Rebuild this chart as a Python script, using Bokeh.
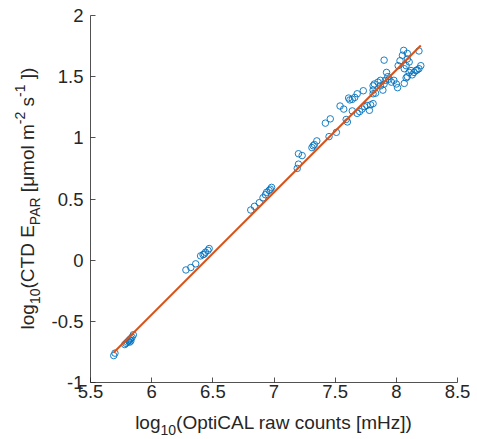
from bokeh.plotting import figure
from bokeh.models import Range1d, FixedTicker, Div
from bokeh.layouts import row, column
from bokeh.embed import file_html
from bokeh.resources import INLINE

# ---- data ----
x_vals = [5.69, 5.70, 5.78, 5.79, 5.80, 5.81, 5.82, 5.82, 5.83, 5.84, 5.85, 5.83,
          6.28, 6.32, 6.36, 6.40, 6.42, 6.43, 6.44, 6.46, 6.47,
          6.81, 6.84, 6.88, 6.91, 6.93, 6.94, 6.96, 6.97, 6.98,
          7.19, 7.20, 7.20, 7.23,
          7.31, 7.32, 7.33, 7.35,
          7.42, 7.46, 7.45, 7.51,
          7.54, 7.57, 7.59, 7.60,
          7.61, 7.62, 7.64, 7.66, 7.68, 7.73,
          7.64, 7.68, 7.70, 7.72, 7.74, 7.76, 7.78, 7.79, 7.81,
          7.81, 7.82, 7.81, 7.81, 7.83, 7.85, 7.87, 7.89, 7.87, 7.90, 7.91,
          7.90,
          7.92, 7.93, 7.94, 7.96, 7.98, 8.00, 8.01,
          8.015, 8.03, 8.05, 8.06, 8.09, 8.09, 8.105, 8.08, 8.065, 8.065, 8.08,
          8.09, 8.105, 8.12, 8.13, 8.145, 8.16, 8.17, 8.185, 8.20, 8.185]
y_vals = [-0.78, -0.76, -0.69, -0.68, -0.67, -0.66, -0.67, -0.65, -0.64, -0.63, -0.61, -0.66,
          -0.08, -0.06, -0.03, 0.035, 0.045, 0.05, 0.065, 0.08, 0.095,
          0.41, 0.44, 0.47, 0.51, 0.535, 0.555, 0.57, 0.58, 0.595,
          0.75, 0.785, 0.87, 0.855,
          0.92, 0.935, 0.945, 0.975,
          1.12, 1.155, 1.01, 1.045,
          1.26, 1.235, 1.15, 1.13,
          1.325, 1.31, 1.315, 1.33, 1.36, 1.385,
          1.22, 1.20, 1.215, 1.235, 1.255, 1.265, 1.225, 1.27, 1.28,
          1.425, 1.44, 1.39, 1.36, 1.365, 1.455, 1.47, 1.39, 1.425, 1.44, 1.47,
          1.635,
          1.535, 1.50, 1.48, 1.455, 1.47, 1.44, 1.41,
          1.59, 1.63, 1.675, 1.715, 1.69, 1.645, 1.62, 1.59, 1.565, 1.445, 1.49,
          1.50, 1.535, 1.55, 1.515, 1.535, 1.55, 1.555, 1.565, 1.59, 1.71]
fit_slope = 1.0
fit_intercept = -6.445

x_ticks = [5.5, 6, 6.5, 7, 7.5, 8, 8.5]
x_tick_labels = ["5.5", "6", "6.5", "7", "7.5", "8", "8.5"]
y_ticks = [-1, -0.5, 0, 0.5, 1, 1.5, 2]
y_tick_labels = ["-1", "-0.5", "0", "0.5", "1", "1.5", "2"]

x_label_parts = [("log", "n"), ("10", "sub"), ("(OptiCAL raw counts [mHz])", "n")]
y_label_parts = [("log", "n"), ("10", "sub"), ("(CTD E", "n"), ("PAR", "sub"),
                 (" [μmol m", "n"), ("-2", "sup"), (" s", "n"), ("-1", "sup"), (" ])", "n")]

# ---- styling / layout ----
FONT = "Liberation Sans"
TXT = "#262626"
BLUE = "#0072BD"
ORANGE = "#D95319"

YDIV_W = 44
FIG_W, FIG_H = 477 - YDIV_W, 408
BL, BT = 46, 15
FRAME = 367
BR = FIG_W - BL - FRAME
BB = FIG_H - BT - FRAME
XDIV_H = 30

p = figure(width=FIG_W, height=FIG_H, x_range=Range1d(5.5, 8.5), y_range=Range1d(-1, 2),
           output_backend="svg", toolbar_location=None,
           min_border_left=BL, min_border_right=BR, min_border_top=BT, min_border_bottom=BB)
p.grid.visible = False
p.outline_line_color = None
p.background_fill_color = "white"
p.border_fill_color = "white"

p.xaxis.ticker = FixedTicker(ticks=x_ticks)
p.xaxis.major_label_overrides = {t: l for t, l in zip(x_ticks, x_tick_labels)}
p.yaxis.ticker = FixedTicker(ticks=y_ticks)
p.yaxis.major_label_overrides = {t: l for t, l in zip(y_ticks, y_tick_labels)}
for ax in (p.xaxis[0], p.yaxis[0]):
    ax.major_tick_in = 5
    ax.major_tick_out = 0
    ax.minor_tick_line_color = None
    ax.axis_line_color = TXT
    ax.axis_line_width = 0.8
    ax.major_tick_line_color = TXT
    ax.major_tick_line_width = 0.8
    ax.major_label_text_font = FONT
    ax.major_label_text_font_size = "18.5px"
    ax.major_label_text_color = TXT
p.xaxis.major_label_standoff = 2
p.yaxis.major_label_standoff = 7

p.scatter(x_vals, y_vals, marker="circle", size=6.5, fill_color=None,
          line_color=BLUE, line_width=0.9)
lx = [min(x_vals), max(x_vals)]
ly = [fit_slope * v + fit_intercept for v in lx]
p.line(lx, ly, line_color=ORANGE, line_width=2)


# ---- axis labels with sub/superscripts (HTML text) ----
def parts_html(parts):
    out = []
    for t, k in parts:
        if k == "n":
            out.append(t)
        elif k == "sub":
            out.append('<sub style="font-size:14px;vertical-align:-6px;line-height:0">%s</sub>' % t)
        else:
            out.append('<sup style="font-size:14px;vertical-align:9px;line-height:0">%s</sup>' % t)
    return "".join(out)


base_css = ("white-space:nowrap;text-align:center;font-family:'%s';font-size:19px;"
            "line-height:30px;height:30px;color:%s;" % (FONT, TXT))

frame_cx = YDIV_W + BL + FRAME / 2.0          # page x of frame centre
x_inner_w = 2 * (477 - frame_cx) - 20
x_left = frame_cx - x_inner_w / 2.0
xhtml = ('<div style="%smargin-left:%.1fpx;width:%.1fpx;">%s</div>'
         % (base_css, x_left, x_inner_w, parts_html(x_label_parts)))

frame_cy = BT + FRAME / 2.0
Lw = 2 * frame_cy
tx = 35 - 21.6
yhtml = ('<div style="%swidth:%.1fpx;transform-origin:0 0;'
         'transform:translate(%.1fpx,%.1fpx) rotate(-90deg);">%s</div>'
         % (base_css, Lw, tx, Lw, parts_html(y_label_parts)))

ydiv = Div(text=yhtml, width=YDIV_W, height=FIG_H, margin=0)
xdiv = Div(text=xhtml, width=477, height=XDIV_H, margin=0)

layout = column(row(ydiv, p, spacing=0), xdiv, spacing=0)

open("out.html", "w").write(file_html(layout, INLINE))
